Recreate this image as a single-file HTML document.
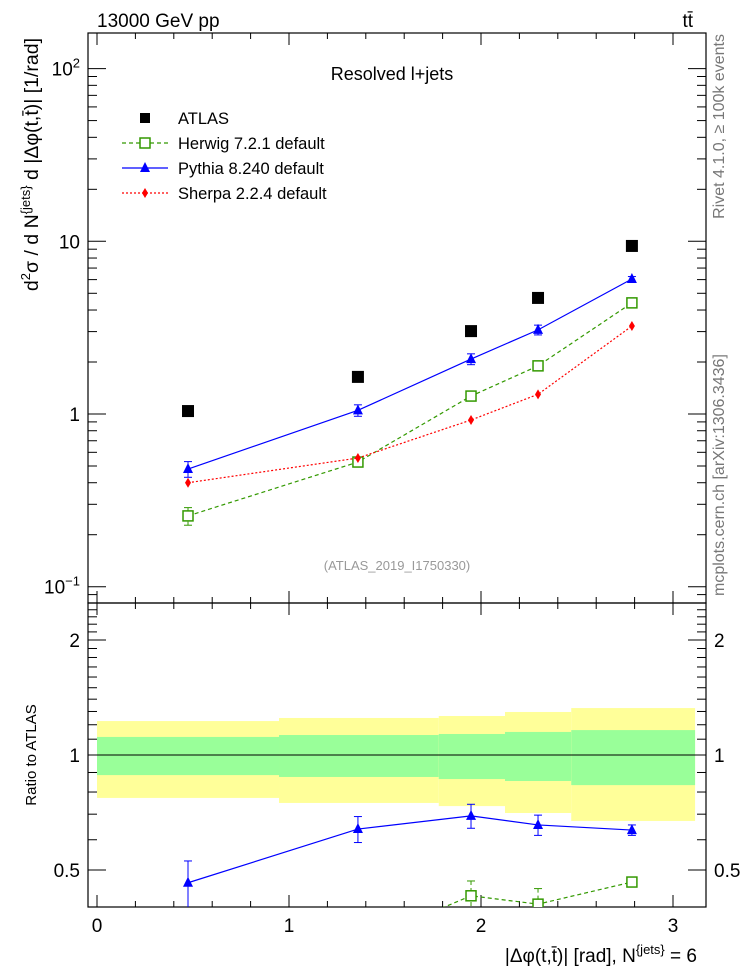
<!DOCTYPE html>
<html><head><meta charset="utf-8"><style>
body{margin:0;background:#fff}
svg{display:block;font-family:"Liberation Sans",Arial,sans-serif}
</style></head><body>
<svg id="c" width="746" height="972" xmlns="http://www.w3.org/2000/svg"></svg>
<script>
const xCenters=[0.474,1.359,1.948,2.297,2.786];
const atlas=[1.04,1.64,3.02,4.7,9.4];
const herwig=[0.257,0.527,1.27,1.9,4.4];
const herwigErr=[0.03,0.03,0.08,0.1,0.2];
const pythia=[0.48,1.05,2.08,3.07,6.05];
const pythiaErr=[0.05,0.08,0.15,0.2,0.2];
const sherpa=[0.40,0.556,0.923,1.30,3.23];
const binEdges=[0,0.948,1.78,2.125,2.47,3.115];
const yellowHi=[1.227,1.25,1.265,1.296,1.327];
const yellowLo=[0.772,0.749,0.735,0.705,0.672];
const greenHi=[1.115,1.128,1.135,1.149,1.162];
const greenLo=[0.886,0.876,0.865,0.855,0.834];
const pythiaRatio=[0.463,0.64,0.693,0.656,0.636];
const pythiaRatioErr=[0.065,0.05,0.05,0.04,0.02];
const herwigRatio=[0.247,0.321,0.428,0.407,0.465];
const herwigRatioErr=[0.02,0.02,0.04,0.04,0.01];
const xTicks=[0,1,2,3];
const yTopTicks=[100,10,1,0.1];
const yRatTicks=[0.5,1,2];

const svg=document.getElementById('c');
const NS='http://www.w3.org/2000/svg';
function el(t,a,p){const e=document.createElementNS(NS,t);for(const k in a)e.setAttribute(k,a[k]);(p||svg).appendChild(e);return e;}
const L=88,R=706,T=33,M=603,B=907;
const X=v=>97+v*192;
const YT=v=>414-Math.log10(v)*172.7;
const YR=v=>755-Math.log2(v)*115;

const defs=el('defs',{});
const c1=el('clipPath',{id:'ct'},defs);el('rect',{x:L,y:T,width:R-L,height:M-T},c1);
const c2=el('clipPath',{id:'cr'},defs);el('rect',{x:L,y:M,width:R-L,height:B-M},c2);

const gb=el('g',{'clip-path':'url(#cr)'});


for(let i=0;i<xCenters.length;i++){
  const x0=X(binEdges[i]),x1=X(binEdges[i+1]);
  const y=el('rect',{x:x0,y:YR(yellowHi[i]),width:x1-x0,height:YR(yellowLo[i])-YR(yellowHi[i]),fill:'#ffff99'},gb);
  
  
  const g=el('rect',{x:x0,y:YR(greenHi[i]),width:x1-x0,height:YR(greenLo[i])-YR(greenHi[i]),fill:'#99ff99'},gb);
  
  
}
el('line',{x1:X(binEdges[0]),x2:X(binEdges[5]),y1:YR(1),y2:YR(1),stroke:'#000','stroke-width':1});

el('rect',{x:L,y:T,width:R-L,height:M-T,fill:'none',stroke:'#000','stroke-width':1.2});
el('rect',{x:L,y:M,width:R-L,height:B-M,fill:'none',stroke:'#000','stroke-width':1.2});

for(let v=0;v<=3.1;v+=0.2){
  const x=X(v);const maj=Math.abs(v-Math.round(v))<1e-6;const len=maj?12:6;
  [[T,1],[M,1],[M,-1],[B,-1]].forEach(([y,d])=>el('line',{x1:x,x2:x,y1:y,y2:y+d*len,stroke:'#000'}));
}
xTicks.forEach(v=>{const t=el('text',{x:X(v),y:932,'font-size':19,'text-anchor':'middle'});t.textContent=v;
 });

for(let e=-2;e<=2;e++)for(let m=1;m<10;m++){
  const v=m*Math.pow(10,e);const y=YT(v);if(y<T||y>M)continue;const len=m==1?18:9;
  el('line',{x1:L,x2:L+len,y1:y,y2:y,stroke:'#000'});el('line',{x1:R,x2:R-len,y1:y,y2:y,stroke:'#000'});
}
const topLbl=['10<tspan dy="-8" font-size="13">2</tspan>','10','1','10<tspan dy="-8" font-size="13">−1</tspan>'];
yTopTicks.forEach((v,i)=>{const t=el('text',{x:80,y:YT(v)+7,'font-size':19,'text-anchor':'end'});
 t.innerHTML=topLbl[i];});

for(let v=0.4;v<=2.5;v+=0.1){const y=YR(v);if(y<M||y>B)continue;const r=Math.round(v*10)/10;const maj=(r==0.5||r==1||r==2);const len=maj?18:9;
 el('line',{x1:L,x2:L+len,y1:y,y2:y,stroke:'#000'});el('line',{x1:R,x2:R-len,y1:y,y2:y,stroke:'#000'});}
yRatTicks.forEach(v=>{[[80,'end'],[714,'start']].forEach(([x,a])=>{const t=el('text',{x:x,y:YR(v)+7,'font-size':19,'text-anchor':a});t.textContent=v;
 });});

function series(vals,errs,Y,color,dash,marker,clip,name){
  const g=el('g',{'clip-path':'url(#'+clip+')'});
  
  
  if(dash!==null){el('polyline',{points:vals.map((v,i)=>X(xCenters[i])+','+Y(v)).join(' '),fill:'none',stroke:color,'stroke-width':1.2,'stroke-dasharray':dash},g);}
  vals.forEach((v,i)=>{const x=X(xCenters[i]),y=Y(v);
    if(errs){const e=errs[i];el('line',{x1:x,x2:x,y1:Y(v+e),y2:Y(v-e),stroke:color,'stroke-dasharray':dash||'none'},g);
      el('line',{x1:x-4,x2:x+4,y1:Y(v+e),y2:Y(v+e),stroke:color},g);el('line',{x1:x-4,x2:x+4,y1:Y(v-e),y2:Y(v-e),stroke:color},g);}
    let m;
    if(marker=='sq')m=el('rect',{x:x-6,y:y-6,width:12,height:12,fill:'#000'},g);
    if(marker=='osq')m=el('rect',{x:x-5,y:y-5,width:10,height:10,fill:'#fff',stroke:color,'stroke-width':1.5},g);
    if(marker=='tri')m=el('polygon',{points:`${x},${y-6} ${x-5},${y+4} ${x+5},${y+4}`,fill:color},g);
    if(marker=='dia')m=el('polygon',{points:`${x},${y-5} ${x+3},${y} ${x},${y+5} ${x-3},${y}`,fill:color},g);
    
    
  });
}
series(herwig,herwigErr,YT,'#339900','4,3','osq','ct','herwig-series');
series(sherpa,null,YT,'#ff0000','2,2','dia','ct','sherpa-series');
series(pythia,pythiaErr,YT,'#0000ff','','tri','ct','pythia-series');
series(atlas,null,YT,'#000',null,'sq','ct','atlas-series');
series(herwigRatio,herwigRatioErr,YR,'#339900','4,3','osq','cr','herwig-ratio');
series(pythiaRatio,pythiaRatioErr,YR,'#0000ff','','tri','cr','pythia-ratio');

const lg=el('g',{});
const items=[['ATLAS','#000',null,'sq'],['Herwig 7.2.1 default','#339900','4,3','osq'],['Pythia 8.240 default','#0000ff','','tri'],['Sherpa 2.2.4 default','#ff0000','2,2','dia']];
items.forEach((it,i)=>{const y=118+i*25;const g=el('g',{},lg);
 if(it[2]!==null)el('line',{x1:122,x2:168,y1:y,y2:y,stroke:it[1],'stroke-width':1.2,'stroke-dasharray':it[2]},g);
 const x=145;
 if(it[3]=='sq')el('rect',{x:x-5,y:y-5,width:10,height:10,fill:'#000'},g);
 if(it[3]=='osq')el('rect',{x:x-5,y:y-5,width:10,height:10,fill:'#fff',stroke:it[1],'stroke-width':1.5},g);
 if(it[3]=='tri')el('polygon',{points:`${x},${y-6} ${x-5},${y+4} ${x+5},${y+4}`,fill:it[1]},g);
 if(it[3]=='dia')el('polygon',{points:`${x},${y-5} ${x+3},${y} ${x},${y+5} ${x-3},${y}`,fill:it[1]},g);
 const t=el('text',{x:178,y:y+6,'font-size':16.5},g);t.textContent=it[0];});
</script>
<svg width="746" height="972" style="position:absolute;left:0;top:0" xmlns="http://www.w3.org/2000/svg">
<text x="97" y="27" font-size="19">13000 GeV pp</text>
<text x="693" y="27" font-size="19" text-anchor="end">tt<tspan dx="-7" dy="-11">̄</tspan></text>
<text x="392" y="80" font-size="18" text-anchor="middle">Resolved l+jets</text>
<text x="397" y="570" font-size="13" fill="#999" text-anchor="middle">(ATLAS_2019_I1750330)</text>
<text transform="translate(38,38) rotate(-90)" font-size="19.5" text-anchor="end">d<tspan dy="-8" font-size="13">2</tspan><tspan dy="8">σ / d N</tspan><tspan dy="-8" font-size="13">{jets}</tspan><tspan dy="8"> d |Δφ(t,t̄)| [1/rad]</tspan></text>
<text transform="translate(36,755) rotate(-90)" font-size="15" text-anchor="middle">Ratio to ATLAS</text>
<text x="697" y="962" font-size="19" text-anchor="end">|Δφ(t,t̄)| [rad], N<tspan dy="-8" font-size="13">{jets}</tspan><tspan dy="8"> = 6</tspan></text>
<text transform="translate(724,34) rotate(-90)" font-size="16" fill="#777" text-anchor="end">Rivet 4.1.0, ≥ 100k events</text>
<text transform="translate(724,596) rotate(-90)" font-size="16" fill="#777" text-anchor="start">mcplots.cern.ch [arXiv:1306.3436]</text>
</svg>
</body></html>
